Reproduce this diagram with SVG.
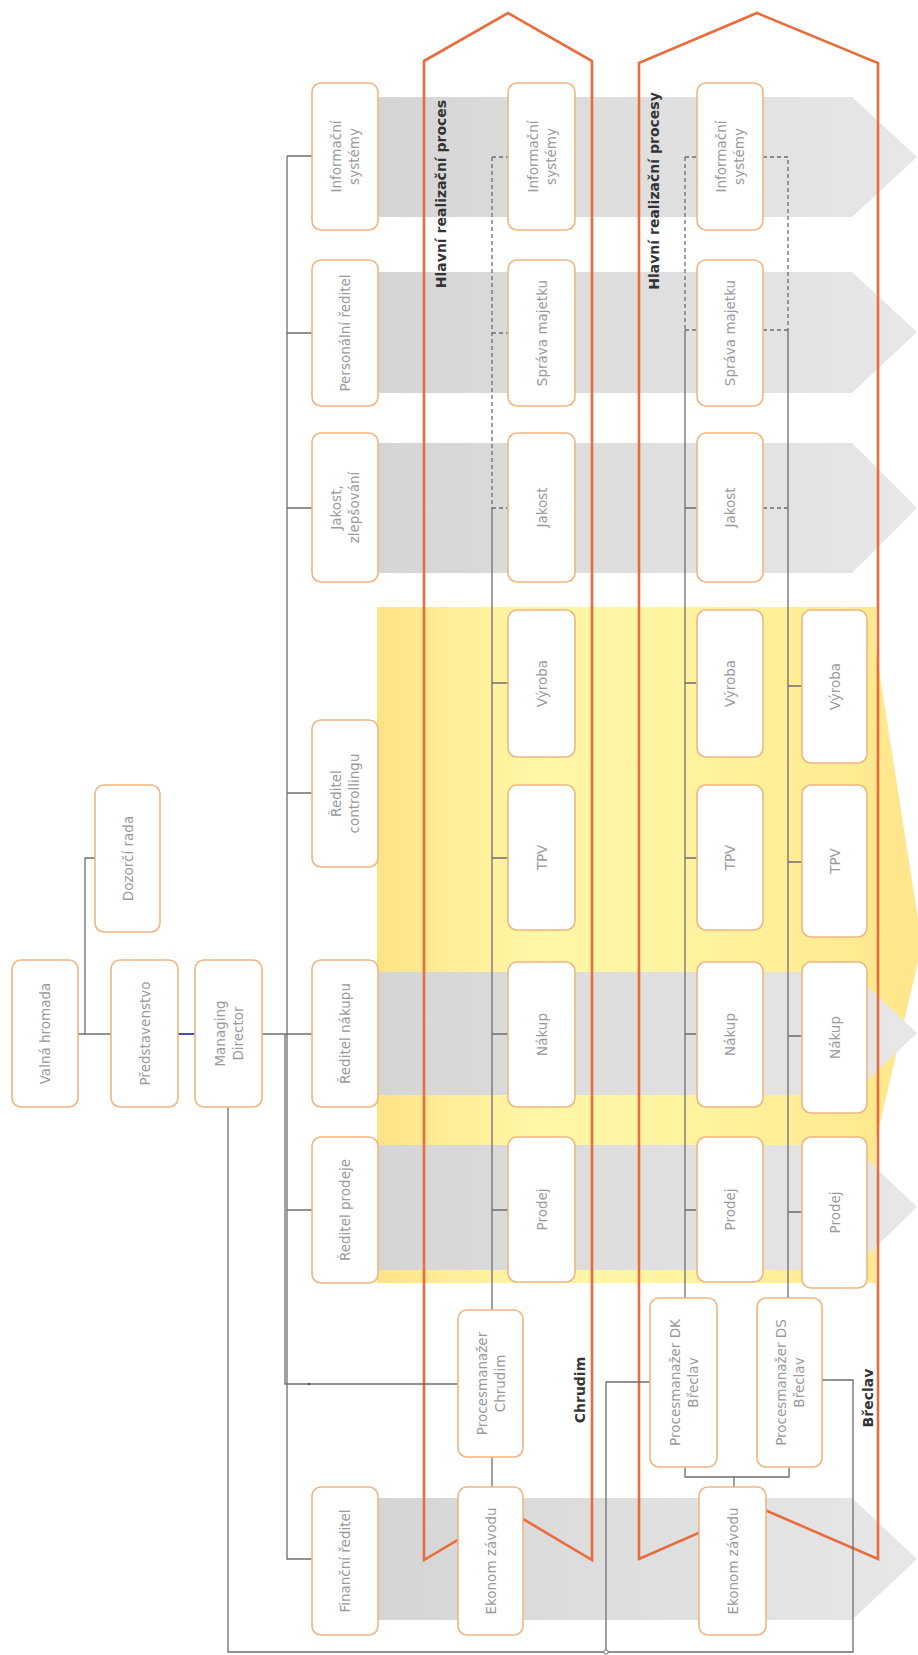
<svg xmlns="http://www.w3.org/2000/svg" width="918" height="1655" viewBox="0 0 918 1655">
<defs>
<linearGradient id="gGray" gradientUnits="userSpaceOnUse" x1="378" y1="0" x2="918" y2="0">
<stop offset="0" stop-color="#D5D5D5"/><stop offset="0.5" stop-color="#DFDFDF"/><stop offset="1" stop-color="#E7E7E7"/>
</linearGradient>
<linearGradient id="gYel" gradientUnits="userSpaceOnUse" x1="377" y1="0" x2="930" y2="0">
<stop offset="0" stop-color="#FFE285"/><stop offset="0.12" stop-color="#FFEC96"/><stop offset="0.3" stop-color="#FFF7A6"/><stop offset="0.55" stop-color="#FFF4A0"/><stop offset="0.85" stop-color="#FFEB92"/><stop offset="1" stop-color="#FFE48A"/>
</linearGradient>
<style>
.box{fill:#FFFFFF;stroke:#F0B581;stroke-width:1.6}
.t{font-family:"DejaVu Sans","Liberation Sans",sans-serif;font-size:13.5px;fill:#9A9A9A;text-anchor:middle}
.lbl{font-family:"DejaVu Sans","Liberation Sans",sans-serif;font-size:14px;font-weight:bold;fill:#333333;text-anchor:middle}
.c{stroke:#6E6E6E;stroke-width:1.3;fill:none}
.d{stroke-dasharray:4 3}
.band{fill:url(#gGray)}
.pent{fill:none;stroke:#E96C3C;stroke-width:2.6;stroke-linejoin:miter}
</style>
</defs>
<rect x="0" y="0" width="918" height="1655" fill="#FFFFFF"/>

<g id="background">
<polygon points="377,607 876,607 876,650 922,945 876,1140 876,1283 377,1283" fill="url(#gYel)"/>
<polygon class="band" points="378,97 852,97 917,157 852,217 378,217"/>
<polygon class="band" points="378,272 852,272 917,332 852,393 378,393"/>
<polygon class="band" points="378,443 852,443 917,508 852,573 378,573"/>
<polygon class="band" points="378,972 852,972 917,1033 852,1095 378,1095"/>
<polygon class="band" points="378,1145 852,1145 917,1207 852,1270 378,1270"/>
<polygon class="band" points="378,1498 852,1498 917,1559 852,1620 378,1620"/>
</g>

<g id="process-chrudim">
<polygon class="pent" points="424,61 508,13 592,61 592,1560 508,1510 424,1560"/>
<text class="lbl" transform="translate(446,194) rotate(-90)">Hlavní realizační proces</text>
<text class="lbl" transform="translate(585,1390) rotate(-90)">Chrudim</text>
</g>
<g id="process-breclav">
<polygon class="pent" points="639,63 757,13 878,63 878,1559 758,1507 639,1559"/>
<text class="lbl" transform="translate(659,191) rotate(-90)">Hlavní realizační procesy</text>
<text class="lbl" transform="translate(873,1398) rotate(-90)">Břeclav</text>
</g>

<g id="connectors">
<path class="c" d="M78,1034 H111"/>
<path class="c" d="M85,1034 V858 H95"/>
<path d="M178,1034 H195" stroke="#1E1E9E" stroke-width="1.6"/>
<path class="c" d="M262,1034 H312"/>
<path class="c" d="M287,156 V1559 H312"/>
<path class="c" d="M287,156 H312 M287,333 H312 M287,508 H312 M287,793 H312 M287,1210 H312"/>
<path class="c" d="M285,1034 V1384 H458"/>
<circle cx="309" cy="1384" r="1.3" fill="#555"/>
<path class="c" d="M228,1107 V1652 H853 V1380 H822"/>
<path class="c" d="M650,1382 H606 V1652"/>
<circle cx="606" cy="1652" r="2.2" fill="#fff" stroke="#6E6E6E" stroke-width="1"/>
<path class="c d" d="M492,157 V508"/>
<path class="c" d="M492,508 V1310"/>
<path class="c d" d="M492,157 H508 M492,333 H508 M492,508 H508"/>
<path class="c" d="M492,683 H508 M492,858 H508 M492,1034 H508 M492,1210 H508"/>
<path class="c" d="M492,1457 V1487"/>
<path class="c d" d="M685,157 V330 M685,157 H697 M685,330 H697"/>
<path class="c" d="M685,330 V1298"/>
<path class="c" d="M685,508 H697 M685,683 H697 M685,858 H697 M685,1034 H697 M685,1210 H697"/>
<path class="c d" d="M763,157 H788 V330 M763,330 H788 M763,508 H788"/>
<path class="c" d="M788,330 V1298"/>
<path class="c" d="M788,686 H802 M788,862 H802 M788,1036 H802 M788,1212 H802"/>
<path class="c" d="M685,1467 V1477 H789 V1467 M734,1477 V1487"/>
</g>

<g id="valna-hromada"><rect class="box" x="12" y="960" width="66" height="147" rx="9"/><text class="t" transform="translate(45,1033.5) rotate(-90)" y="5">Valná hromada</text></g>
<g id="predstavenstvo"><rect class="box" x="111" y="960" width="67" height="147" rx="9"/><text class="t" transform="translate(144.5,1033.5) rotate(-90)" y="5">Představenstvo</text></g>
<g id="managing-director"><rect class="box" x="195" y="960" width="67" height="147" rx="9"/><text class="t" transform="translate(228.5,1033.5) rotate(-90)"><tspan x="0" y="-4">Managing</tspan><tspan x="0" y="14">Director</tspan></text></g>
<g id="dozorci-rada"><rect class="box" x="95" y="785" width="65" height="147" rx="9"/><text class="t" transform="translate(127.5,858.5) rotate(-90)" y="5">Dozorčí rada</text></g>

<g id="a-informacni-systemy"><rect class="box" x="312" y="83" width="66" height="147" rx="9"/><text class="t" transform="translate(345,156.5) rotate(-90)"><tspan x="0" y="-4">Informační</tspan><tspan x="0" y="14">systémy</tspan></text></g>
<g id="a-personalni-reditel"><rect class="box" x="312" y="260" width="66" height="146" rx="9"/><text class="t" transform="translate(345,333) rotate(-90)" y="5">Personální ředitel</text></g>
<g id="a-jakost-zlepsovani"><rect class="box" x="312" y="433" width="66" height="149" rx="9"/><text class="t" transform="translate(345,507.5) rotate(-90)"><tspan x="0" y="-4">Jakost,</tspan><tspan x="0" y="14">zlepšování</tspan></text></g>
<g id="a-reditel-controllingu"><rect class="box" x="312" y="720" width="66" height="147" rx="9"/><text class="t" transform="translate(345,793.5) rotate(-90)"><tspan x="0" y="-4">Ředitel</tspan><tspan x="0" y="14">controllingu</tspan></text></g>
<g id="a-reditel-nakupu"><rect class="box" x="312" y="960" width="66" height="147" rx="9"/><text class="t" transform="translate(345,1033.5) rotate(-90)" y="5">Ředitel nákupu</text></g>
<g id="a-reditel-prodeje"><rect class="box" x="312" y="1137" width="66" height="146" rx="9"/><text class="t" transform="translate(345,1210) rotate(-90)" y="5">Ředitel prodeje</text></g>
<g id="a-financni-reditel"><rect class="box" x="312" y="1487" width="66" height="148" rx="9"/><text class="t" transform="translate(345,1561) rotate(-90)" y="5">Finanční ředitel</text></g>

<g id="b-informacni-systemy"><rect class="box" x="508" y="83" width="67" height="147" rx="9"/><text class="t" transform="translate(541.5,156.5) rotate(-90)"><tspan x="0" y="-4">Informační</tspan><tspan x="0" y="14">systémy</tspan></text></g>
<g id="b-sprava-majetku"><rect class="box" x="508" y="260" width="67" height="146" rx="9"/><text class="t" transform="translate(541.5,333) rotate(-90)" y="5">Správa majetku</text></g>
<g id="b-jakost"><rect class="box" x="508" y="433" width="67" height="149" rx="9"/><text class="t" transform="translate(541.5,507.5) rotate(-90)" y="5">Jakost</text></g>
<g id="b-vyroba"><rect class="box" x="508" y="610" width="67" height="147" rx="9"/><text class="t" transform="translate(541.5,683.5) rotate(-90)" y="5">Výroba</text></g>
<g id="b-tpv"><rect class="box" x="508" y="785" width="67" height="145" rx="9"/><text class="t" transform="translate(541.5,857.5) rotate(-90)" y="5">TPV</text></g>
<g id="b-nakup"><rect class="box" x="508" y="962" width="67" height="145" rx="9"/><text class="t" transform="translate(541.5,1034.5) rotate(-90)" y="5">Nákup</text></g>
<g id="b-prodej"><rect class="box" x="508" y="1137" width="67" height="145" rx="9"/><text class="t" transform="translate(541.5,1209.5) rotate(-90)" y="5">Prodej</text></g>
<g id="b-procesmanazer-chrudim"><rect class="box" x="458" y="1310" width="65" height="147" rx="9"/><text class="t" transform="translate(490.5,1383.5) rotate(-90)"><tspan x="0" y="-4">Procesmanažer</tspan><tspan x="0" y="14">Chrudim</tspan></text></g>
<g id="b-ekonom-zavodu"><rect class="box" x="458" y="1487" width="65" height="148" rx="9"/><text class="t" transform="translate(490.5,1561) rotate(-90)" y="5">Ekonom závodu</text></g>

<g id="c-informacni-systemy"><rect class="box" x="697" y="83" width="66" height="147" rx="9"/><text class="t" transform="translate(730,156.5) rotate(-90)"><tspan x="0" y="-4">Informační</tspan><tspan x="0" y="14">systémy</tspan></text></g>
<g id="c-sprava-majetku"><rect class="box" x="697" y="260" width="66" height="146" rx="9"/><text class="t" transform="translate(730,333) rotate(-90)" y="5">Správa majetku</text></g>
<g id="c-jakost"><rect class="box" x="697" y="433" width="66" height="149" rx="9"/><text class="t" transform="translate(730,507.5) rotate(-90)" y="5">Jakost</text></g>
<g id="c-vyroba"><rect class="box" x="697" y="610" width="66" height="147" rx="9"/><text class="t" transform="translate(730,683.5) rotate(-90)" y="5">Výroba</text></g>
<g id="c-tpv"><rect class="box" x="697" y="785" width="66" height="145" rx="9"/><text class="t" transform="translate(730,857.5) rotate(-90)" y="5">TPV</text></g>
<g id="c-nakup"><rect class="box" x="697" y="962" width="66" height="145" rx="9"/><text class="t" transform="translate(730,1034.5) rotate(-90)" y="5">Nákup</text></g>
<g id="c-prodej"><rect class="box" x="697" y="1137" width="66" height="145" rx="9"/><text class="t" transform="translate(730,1209.5) rotate(-90)" y="5">Prodej</text></g>
<g id="c-procesmanazer-dk"><rect class="box" x="650" y="1298" width="67" height="169" rx="9"/><text class="t" transform="translate(683.5,1382.5) rotate(-90)"><tspan x="0" y="-4">Procesmanažer DK</tspan><tspan x="0" y="14">Břeclav</tspan></text></g>

<g id="d-vyroba"><rect class="box" x="802" y="610" width="65" height="153" rx="9"/><text class="t" transform="translate(834.5,686.5) rotate(-90)" y="5">Výroba</text></g>
<g id="d-tpv"><rect class="box" x="802" y="785" width="65" height="152" rx="9"/><text class="t" transform="translate(834.5,861) rotate(-90)" y="5">TPV</text></g>
<g id="d-nakup"><rect class="box" x="802" y="962" width="65" height="151" rx="9"/><text class="t" transform="translate(834.5,1037.5) rotate(-90)" y="5">Nákup</text></g>
<g id="d-prodej"><rect class="box" x="802" y="1137" width="65" height="151" rx="9"/><text class="t" transform="translate(834.5,1212.5) rotate(-90)" y="5">Prodej</text></g>
<g id="d-procesmanazer-ds"><rect class="box" x="757" y="1298" width="65" height="169" rx="9"/><text class="t" transform="translate(789.5,1382.5) rotate(-90)"><tspan x="0" y="-4">Procesmanažer DS</tspan><tspan x="0" y="14">Břeclav</tspan></text></g>
<g id="breclav-ekonom-zavodu"><rect class="box" x="699" y="1487" width="67" height="148" rx="9"/><text class="t" transform="translate(732.5,1561) rotate(-90)" y="5">Ekonom závodu</text></g>
</svg>
